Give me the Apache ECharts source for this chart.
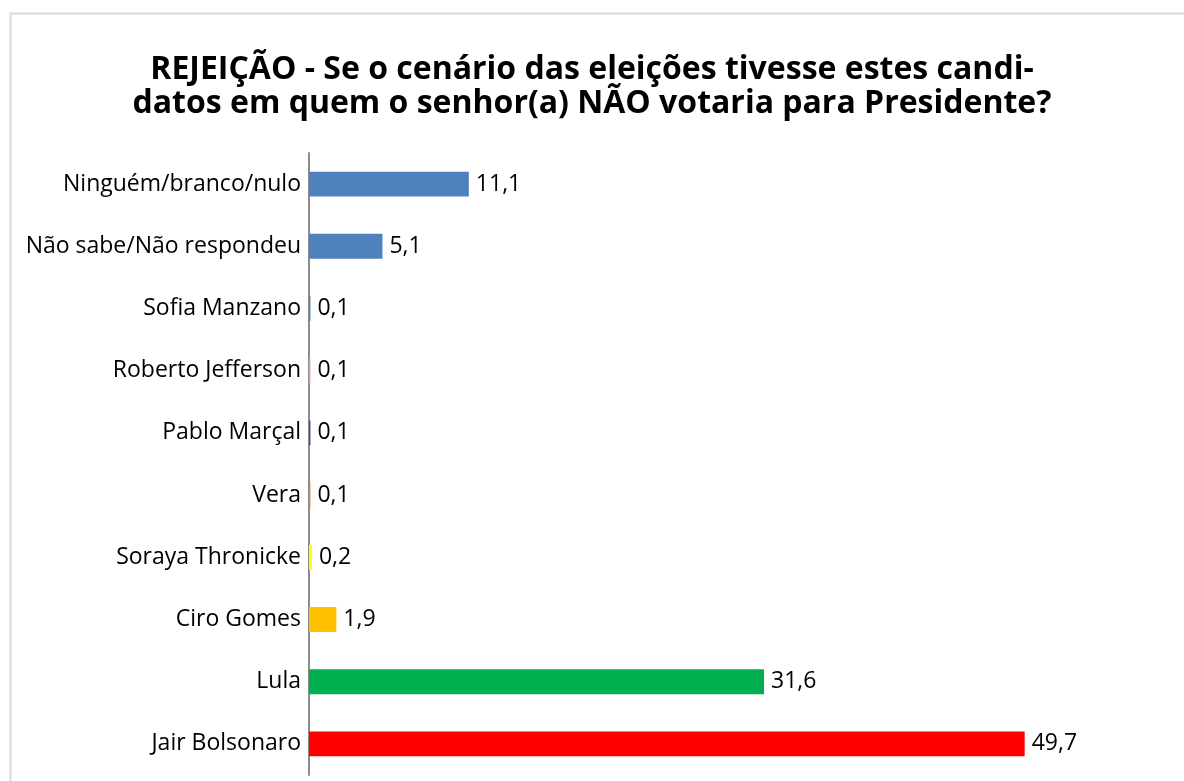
<!DOCTYPE html>
<html>
<head>
<meta charset="utf-8">
<script src="https://cdn.jsdelivr.net/npm/echarts@6/dist/echarts.min.js"></script>
<style>
  html, body { margin: 0; padding: 0; background: #fff; }
  #chart { width: 1184px; height: 781px; }
</style>
</head>
<body>
<div id="chart"></div>
<script>
  // categories listed bottom -> top (ECharts category y axis starts at the bottom)
  var categories = ['Jair Bolsonaro', 'Lula', 'Ciro Gomes', 'Soraya Thronicke', 'Vera',
    'Pablo Marçal', 'Roberto Jefferson', 'Sofia Manzano', 'Não sabe/Não respondeu', 'Ninguém/branco/nulo']
  var values = [49.7, 31.6, 1.9, 0.2, 0.1, 0.1, 0.1, 0.1, 5.1, 11.1]
  var barColors = ['#FF0000', '#00B050', '#FFC000', '#FFFF00', '#ED7D31',
    '#7030A0', '#E6A0A0', '#4F81BD', '#4F81BD', '#4F81BD']

  var titleLines = [
    'REJEIÇÃO - Se o cenário das eleições tivesse estes candi-',
    'datos em quem o senhor(a) NÃO votaria para Presidente?'
  ]

  var chart = echarts.init(document.getElementById('chart'))
  var option = {
    animation: false,
    textStyle: { fontFamily: 'Open Sans' },
    graphic: [{
      type: 'rect',
      shape: { x: 10.5, y: 13.5, width: 1200, height: 800 },
      style: { fill: 'none', stroke: '#d9d9d9', lineWidth: 2 }
    }],
    title: {
      text: titleLines.join('\n'),
      left: 'center',
      top: 48,
      textStyle: {
        fontFamily: 'Open Sans',
        fontSize: 32,
        fontWeight: 'bold',
        color: '#000',
        lineHeight: 34
      }
    },
    grid: {
      left: 309,
      right: 11,
      top: 153,
      bottom: 6,
      containLabel: false
    },
    xAxis: {
      type: 'value',
      min: 0,
      max: 60,
      show: false
    },
    yAxis: {
      type: 'category',
      data: categories,
      axisLine: { lineStyle: { color: '#8c8c8c', width: 2 } },
      axisTick: { show: false },
      axisLabel: {
        color: '#000',
        fontFamily: 'Open Sans',
        fontSize: 23,
        margin: 8
      }
    },
    series: [{
      type: 'bar',
      barWidth: '40%',
      data: values.map(function (v, i) {
        return { value: v, itemStyle: { color: barColors[i] } }
      }),
      label: {
        show: true,
        position: 'right',
        distance: 7,
        color: '#000',
        fontFamily: 'Open Sans',
        fontSize: 23,
        formatter: function (p) {
          return String(p.value).replace('.', ',')
        }
      }
    }]
  }
  chart.setOption(option)
</script>
</body>
</html>
